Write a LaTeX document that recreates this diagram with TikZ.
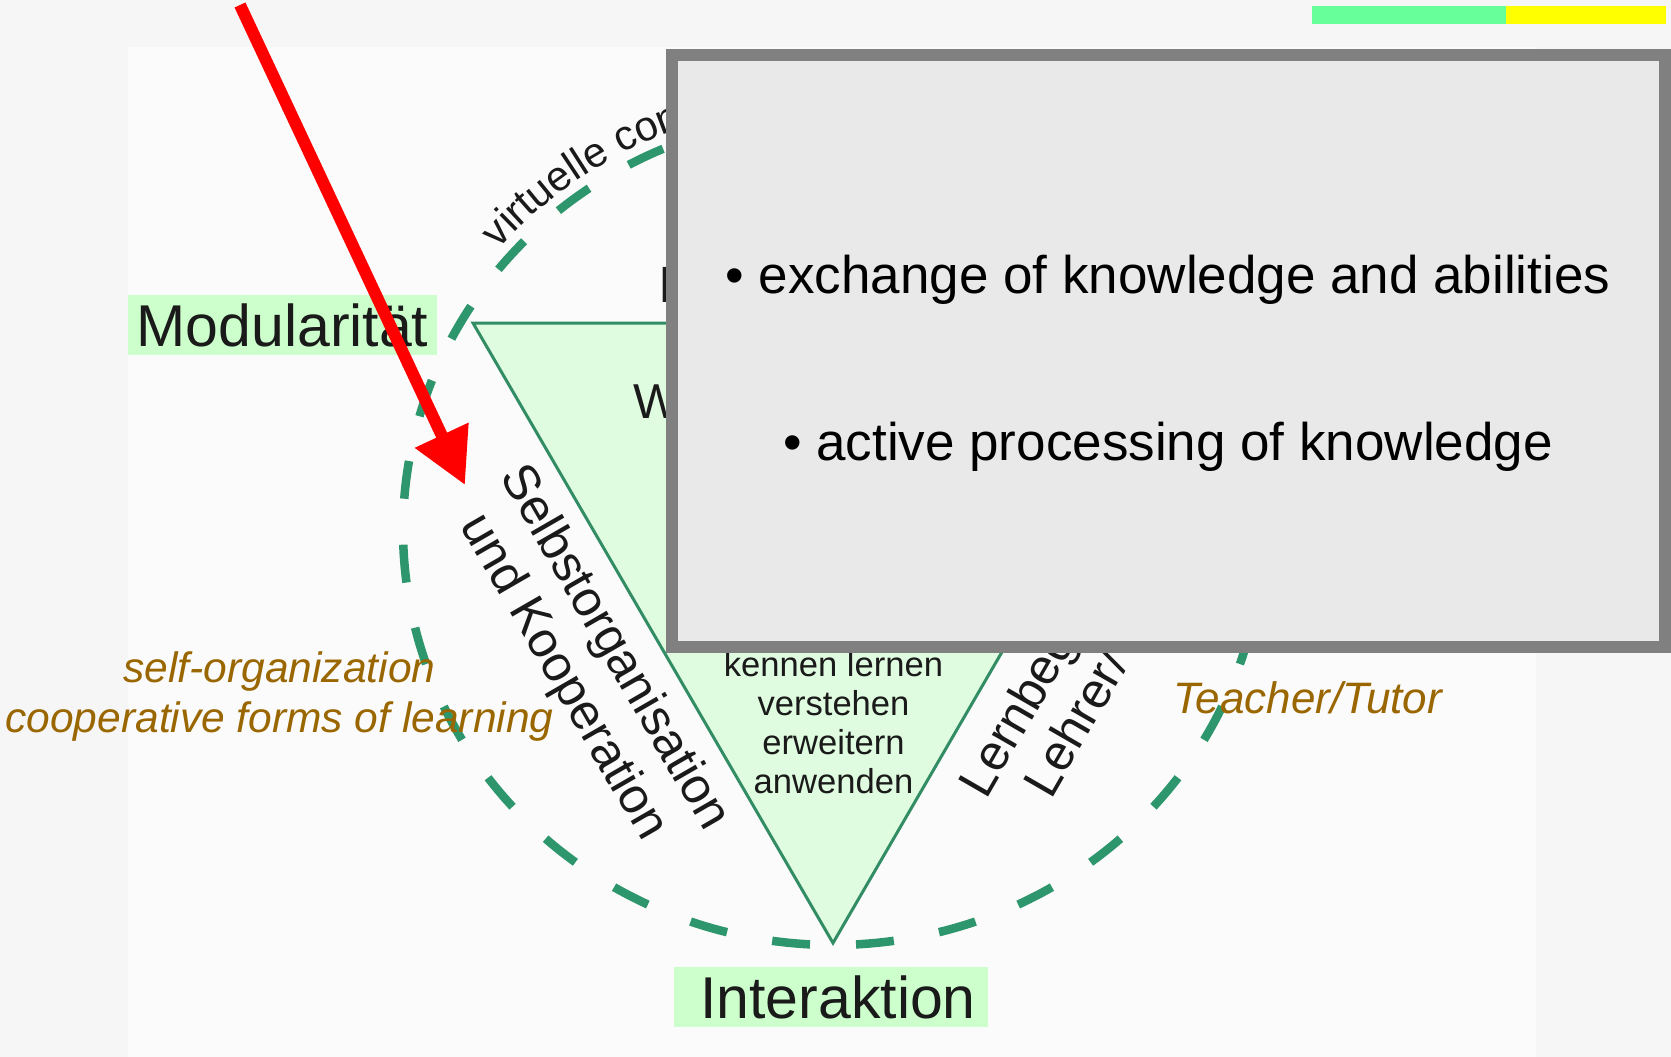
\documentclass[tikz,border=0pt]{standalone}
\usepackage{fontspec}
\setmainfont{Liberation Sans}
\usetikzlibrary{arrows.meta,decorations.text}
\definecolor{bgout}{RGB}{246,246,246}
\definecolor{bgpanel}{RGB}{251,251,251}
\definecolor{trifill}{RGB}{224,252,224}
\definecolor{triedge}{RGB}{50,140,100}
\definecolor{dashgreen}{RGB}{46,150,108}
\definecolor{lblbg}{RGB}{204,255,204}
\definecolor{boxfill}{RGB}{233,233,233}
\definecolor{boxedge}{RGB}{128,128,128}
\definecolor{engbrown}{RGB}{153,102,0}
\definecolor{barg}{RGB}{102,255,153}
\definecolor{bary}{RGB}{255,255,0}
\definecolor{ink}{RGB}{26,26,26}
\begin{document}
\begin{tikzpicture}[x=1pt,y=-1pt,
  every node/.style={inner sep=0pt, outer sep=0pt},
  lbl/.style={fill=lblbg, text=ink, font=\fontsize{59}{68}\selectfont, minimum height=60pt},
  ring/.style={draw=dashgreen, line width=8.5pt, dash pattern=on 38pt off 46pt, dash phase=61pt},
  tri/.style={fill=trifill, draw=triedge, line width=3pt},
  rottxt/.style={text=ink, font=\fontsize{50}{58.6}\selectfont},
  innertxt/.style={text=ink, font=\fontsize{34.6}{39}\selectfont, anchor=base},
  boxtxt/.style={text=black, font=\fontsize{53}{60}\selectfont, anchor=base},
  engl/.style={text=engbrown, font=\fontsize{42.5}{50}\selectfont\itshape, anchor=base},
  infobox/.style={draw=boxedge, fill=boxfill, line width=12pt},
  redarrow/.style={draw=red, line width=12pt, -{Triangle[length=55pt,width=56pt]}}
]
\useasboundingbox (0,0) rectangle (1671,1057);
\fill[bgout] (0,0) rectangle (1671,1057);
\fill[bgpanel] (128,47) rectangle (1536,1057);
% triangle
\coordinate (tl) at (473,323);
\coordinate (tr) at (1193,323);
\coordinate (tb) at (833,943);
\filldraw[tri] (tl) -- (tr) -- (tb) -- cycle;
% dashed ring
\draw[ring] plot[domain=90:270, samples=300] ({833+430*cos(\x)},{530+415*sin(\x)});
\draw[ring] plot[domain=90:-90, samples=300] ({833+430*cos(\x)},{530+415*sin(\x)});
% text along the ring
\path[decorate, decoration={text along path, text color=ink,
  text={|\fontsize{42}{50}\selectfont|virtuelle con}}]
  plot[domain=221:285, samples=120] ({833+443*cos(\x)},{530+428*sin(\x)});
% inner texts
\node[text=ink, font=\fontsize{49}{56}\selectfont, anchor=base west] (wtxt) at (633,418) {W};
\node[text=ink, font=\fontsize{51}{58}\selectfont, anchor=base west] (itxt) at (658,302) {I};
\node[innertxt] (k1) at (833.5,676) {kennen lernen};
\node[innertxt] (k2) at (833.5,715) {verstehen};
\node[innertxt] (k3) at (833.5,754) {erweitern};
\node[innertxt] (k4) at (833.5,793) {anwenden};
% side texts
\node[rottxt, rotate=-60, align=center] (selbst) at (588,663) {Selbstorganisation\\und Kooperation};
\node[rottxt, rotate=60, anchor=base west] (lern) at (986,800) {Lernbeg};
\node[rottxt, rotate=60, anchor=base west] (lehr) at (1051,800) {Lehrer/};
% corner labels
\node[lbl, minimum width=309pt] (mod) at (282.5,325) {Modularität};
\node[lbl, minimum width=314pt] (inter) at (831,997) {\hspace*{14pt}Interaktion};
% english labels
\node[engl] (self) at (279.5,682) {self-organization};
\node[engl] (coop) at (279.5,732) {cooperative forms of learning};
\node[engl, anchor=base west, font=\fontsize{44}{50}\selectfont\itshape] (teach) at (1173,713) {Teacher/Tutor};
% info box
\draw[infobox] (672,55) rectangle (1665,647);
\node[boxtxt] (ex1) at (1168,293) {• exchange of knowledge and abilities};
\node[boxtxt] (ex2) at (1168,460) {• active processing of knowledge};
% top bars
\fill[barg] (1312,6) rectangle (1506,24);
\fill[bary] (1506,6) rectangle (1666,24);
% red arrow
\coordinate (arrowstart) at (240,5);
\coordinate (arrowtip) at (465,485);
\draw[redarrow] (arrowstart) -- (arrowtip);
\end{tikzpicture}
\end{document}
